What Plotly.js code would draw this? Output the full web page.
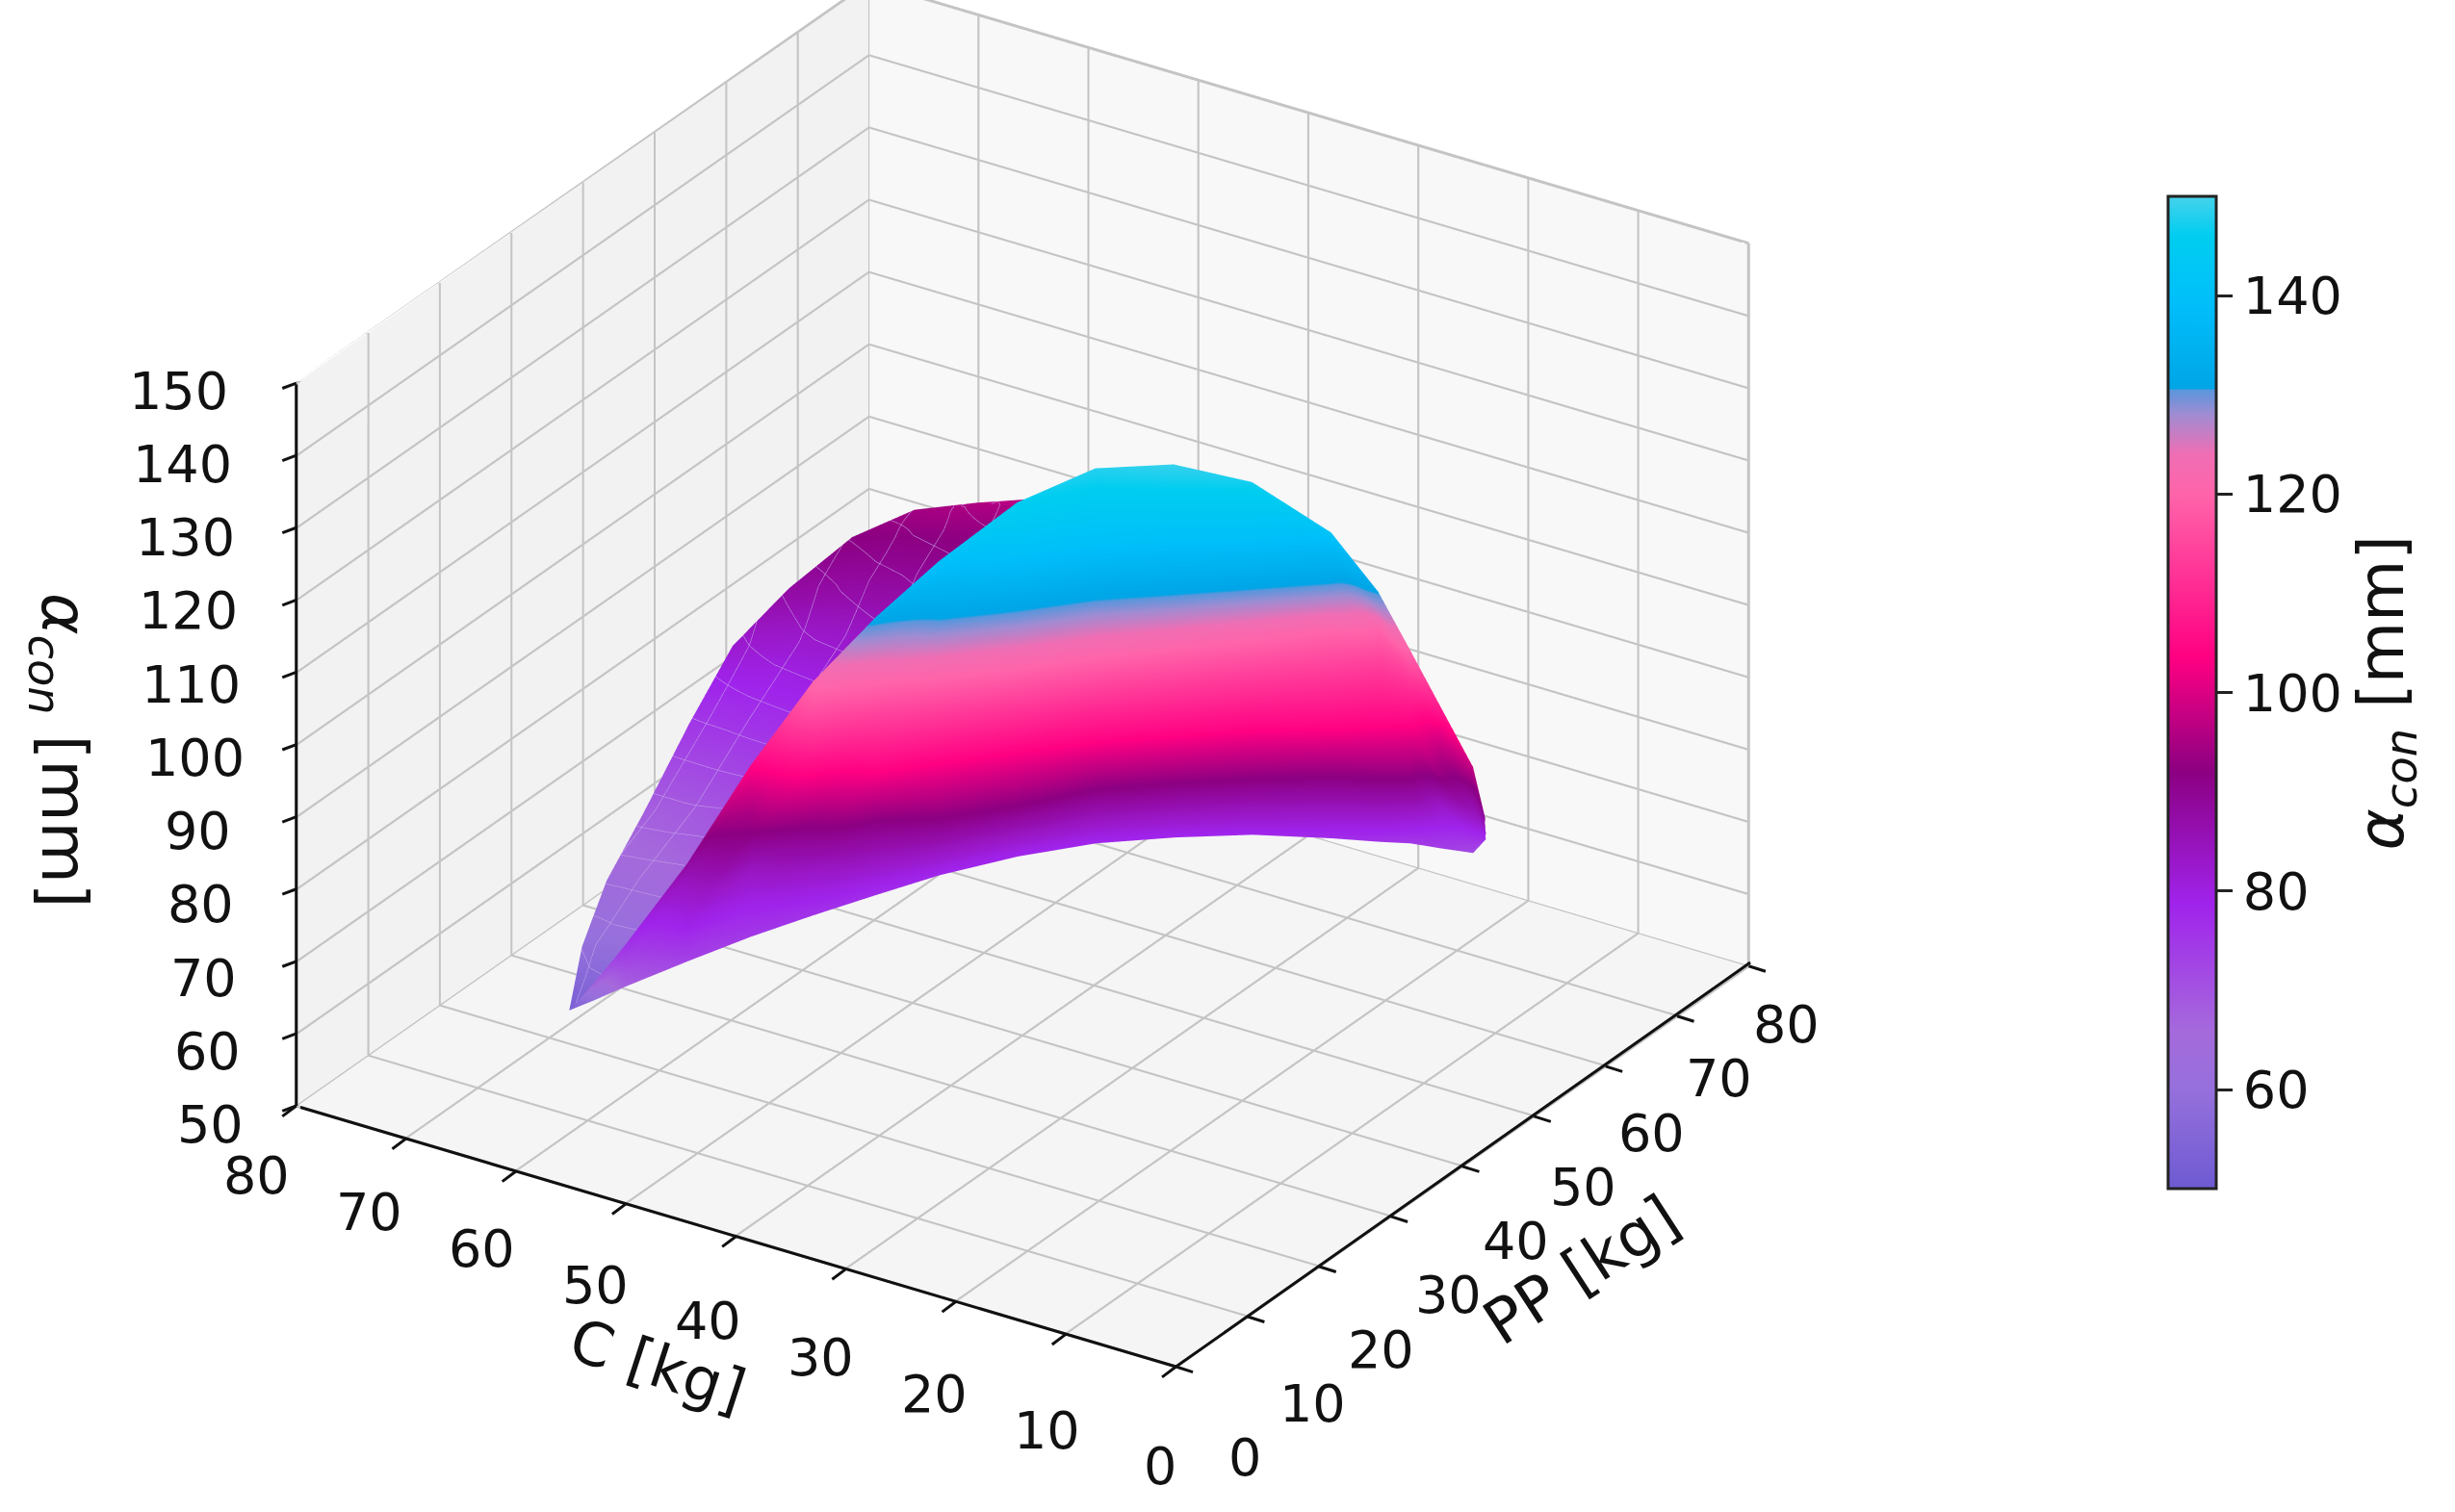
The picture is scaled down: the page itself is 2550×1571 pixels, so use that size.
<!DOCTYPE html>
<html><head><meta charset="utf-8">
<script src="https://cdn.plot.ly/plotly-3.0.1.min.js"></script>
<style>html,body{margin:0;padding:0;background:#fff}#chart{width:2550px;height:1571px}</style>
</head><body><div id="chart"></div>
<script>
const axisTicks = [0,10,20,30,40,50,60,70,80];
const zTicks = [50,60,70,80,90,100,110,120,130,140,150];
const barTicks = [60,80,100,120,140];

const frontPP = [
[21.7,21.7,21.7,21.7,21.7,21.7,21.7],
[17.1,16.5,15.9,15.3,13.7,12.9,11.3],
[12.1,12.0,12.0,11.1,10.9,10.0,9.8],
[13.3,12.6,12.0,12.4,12.7,12.9,11.8],
[17.3,17.8,17.6,14.6,14.1,13.1,11.8],
[21.9,20.7,18.1,13.5,10.8,9.0,9.1],
[26.3,21.5,16.5,14.4,12.2,10.1,9.6],
[30.7,24.5,20.4,15.6,13.3,13.0,11.9],
[36.6,29.5,25.1,20.1,17.8,16.4,17.3],
[41.7,35.1,29.8,24.9,22.6,21.1,23.3],
[45.8,39.2,33.9,29.4,26.6,25.0,26.1],
[49.4,43.0,38.0,33.9,30.7,28.4,28.9],
[53.2,46.6,41.4,38.4,34.8,33.3,31.2],
[55.7,48.3,43.7,42.6,40.8,36.1,35.0],
[57.8,49.6,45.2,43.5,41.4,39.9,39.4],
[59.4,56.2,50.7,50.1,48.6,46.7,44.6],
[62.1,58.8,55.3,53.4,51.1,49.5,47.8],
[60.5,58.9,57.3,54.6,53.2,51.6,49.2]];
const frontC = [
[69.3,69.3,69.3,69.3,69.3,69.3,69.3],
[64.0,63.7,63.3,62.9,61.9,61.3,60.3],
[58.0,57.9,57.9,57.3,57.2,56.6,56.5],
[53.0,52.6,52.2,52.4,52.7,52.8,52.1],
[49.9,50.3,50.1,48.2,47.8,47.2,46.4],
[47.2,46.4,44.7,41.8,40.0,38.9,38.9],
[44.4,41.3,38.0,36.7,35.2,33.9,33.5],
[41.5,37.5,34.8,31.7,30.2,30.1,29.3],
[38.2,33.6,30.8,27.5,26.0,25.1,25.7],
[34.4,30.1,26.7,23.5,22.0,21.0,22.5],
[29.9,25.6,22.2,19.3,17.5,16.4,17.2],
[25.2,21.0,17.7,15.1,13.0,11.5,11.9],
[20.5,16.2,12.8,10.9,8.5,7.5,6.2],
[17.8,13.0,10.1,9.3,8.1,5.1,4.4],
[16.3,11.0,8.2,7.0,5.7,4.7,4.4],
[14.5,12.4,8.8,8.5,7.5,6.3,4.9],
[13.4,11.3,9.0,7.8,6.2,5.2,4.1],
[11.2,10.2,9.1,7.4,6.5,5.5,3.9]];
const frontZ = [
[53,53,53,53,53,53,53],
[60,61,62,63,65,66,68],
[68,69,70,72,73,75,76],
[73,76,79,81,83,85,88],
[75,79,84,92,96,100,104],
[76,83,92,104,112,118,121],
[77,92,104,112,120,130,132],
[78,92,104,120,130,135,140],
[78,92,104,120,130,140,146],
[78,92,104,120,130,140,148],
[78,92,104,120,130,140,149],
[78,92,104,120,130,140,147],
[77,92,104,120,130,136,141],
[76,92,104,112,120,128,131],
[75,92,104,110,115,118,120],
[74,83,92,96,100,104,108],
[72,78,84,88,92,95,98],
[76,78,80,83,85,87,90]];

const backPP = [
[21.7,21.7,21.7],
[24.1,25.3,27.1],
[30.3,31.1,33.1],
[37.6,38.6,40.7],
[44.6,45.8,49.1],
[50.2,53.0,57.1],
[54.5,57.5,62.3],
[60.3,62.8,67.4],
[64.7,65.6,70.6],
[66.3,67.6,70.6],
[66.5,68.1,71.2]];
const backC = [
[69.3,69.3,69.3],
[69.7,68.7,64.8],
[71.5,68.8,64.5],
[72.8,69.9,63.7],
[73.3,70.1,64.2],
[73.0,69.6,62.9],
[70.7,67.4,60.6],
[68.7,65.2,58.2],
[65.9,62.7,56.0],
[61.2,59.7,54.6],
[57.6,56.5,53.6]];
const backZ = [
[53,53,53],
[60,60,62],
[64,65,67],
[68,69,72],
[75,76,78],
[82,82,84],
[88,88,90],
[92,92,94],
[94,95,96],
[96,96,97],
[97,97,97]];

const colorStops = [
[0,'#6E5AD2'],[0.1,'#9670DC'],[0.16,'#A569DC'],[0.287,'#A023EB'],[0.42,'#8C0082'],
[0.535,'#FF0082'],[0.70,'#FF64AA'],[0.74,'#F06EB4'],[0.78,'#A08CD2'],[0.805,'#5A96DC'],
[0.806,'#00A5E6'],[0.89,'#00BEFA'],[0.96,'#00CDF0'],[1,'#46D2EB']];

const FONT = 'DejaVu Sans';
const TICK_SIZE = 54;
const INK = '#111';
const flat = {ambient:1,diffuse:0,specular:0,roughness:1,fresnel:0};
const PMIN = axisTicks[0], PMAX = axisTicks[axisTicks.length-1];
const ZMIN = zTicks[0], ZMAX = zTicks[zTicks.length-1];
const PX = 1.626; // reference-thumbnail px to page px

function axis(range, bg){
  return {range:range, showticklabels:false, title:{text:''}, showgrid:false, zeroline:false,
    showline:false, ticks:'', showbackground:true, backgroundcolor:bg, showspikes:false};
}
function lines(segs, color, width){
  const x=[],y=[],z=[];
  segs.forEach(s=>{x.push(s[0],s[3],null);y.push(s[1],s[4],null);z.push(s[2],s[5],null);});
  return {type:'scatter3d',mode:'lines',x,y,z,line:{color,width},hoverinfo:'skip',showlegend:false};
}
const gridSegs=[];
axisTicks.forEach(t=>{
  gridSegs.push([t,PMIN,ZMIN,t,PMAX,ZMIN],[PMIN,t,ZMIN,PMAX,t,ZMIN]);
  gridSegs.push([t,PMAX,ZMIN,t,PMAX,ZMAX],[PMAX,t,ZMIN,PMAX,t,ZMAX]);
});
zTicks.forEach(t=>{
  gridSegs.push([PMIN,PMAX,t,PMAX,PMAX,t],[PMAX,PMIN,t,PMAX,PMAX,t]);
});

const ann=[];
function tick(x,y,z,label,ax,ay,lx,ly){
  ann.push({x,y,z,text:'',showarrow:true,arrowhead:0,arrowwidth:3,arrowcolor:INK,ax,ay});
  ann.push({x,y,z,text:String(label),showarrow:false,xshift:lx,yshift:ly,xanchor:'center',yanchor:'middle',
    font:{family:FONT,size:TICK_SIZE,color:INK}});
}
axisTicks.forEach(t=>tick(PMIN,t,ZMIN,t,-16,12,
   -33-(-10+0.19*t)*PX, -86+(-11+0.24*t)*PX));
axisTicks.forEach(t=>tick(t,PMIN,ZMIN,t,19,6,
   54-(-11+0.25*t)*PX, -80+(-9+0.26*t)*PX));
zTicks.forEach(t=>tick(PMIN,PMAX,t,t,-16,6,
   (-75+0.2*(150-t))*PX, -(12-0.07*(t-50))*PX));
// full-length black axis edges
ann.push({x:PMIN,y:PMIN,z:ZMIN,text:'',showarrow:true,arrowhead:0,arrowwidth:3,arrowcolor:INK,ax:-911,ay:-270});
ann.push({x:PMIN,y:PMIN,z:ZMIN,text:'',showarrow:true,arrowhead:0,arrowwidth:3,arrowcolor:INK,ax:598,ay:-421});
ann.push({x:PMIN,y:PMAX,z:ZMIN,text:'',showarrow:true,arrowhead:0,arrowwidth:3,arrowcolor:INK,ax:0,ay:-751});

const traces = [
 lines(gridSegs,'#c4c4c4',6),
 {type:'surface',x:backPP,y:backC,z:backZ,cmin:50,cmax:150,colorscale:colorStops,showscale:false,lighting:flat,hoverinfo:'skip',
  contours:{x:{show:true,start:0,end:80,size:3,color:'#c9a6ea',width:1},y:{show:true,start:0,end:80,size:3,color:'#c9a6ea',width:1}}},
 {type:'surface',x:frontPP,y:frontC,z:frontZ,cmin:50,cmax:150,colorscale:colorStops,lighting:flat,hoverinfo:'skip',
  colorbar:{x:0.883,xanchor:'left',xpad:0,y:0.870,yanchor:'top',ypad:0,len:0.656,lenmode:'fraction',thickness:50,thicknessmode:'pixels',
    outlinewidth:3,outlinecolor:'#222',ticks:'outside',ticklen:16,tickwidth:3,tickcolor:'#222',
    tickmode:'array',tickvals:barTicks,ticktext:barTicks.map(String),tickfont:{family:FONT,size:TICK_SIZE,color:INK},
    title:{text:'<i>α<sub>con</sub></i> [mm]',side:'right',font:{family:FONT,size:66,color:INK}}}}
];
function title(x,y,text,angle,size){
  return {xref:'paper',yref:'paper',x:x/2550,y:1-y/1571,text,textangle:angle,showarrow:false,xanchor:'center',yanchor:'middle',
    font:{family:FONT,size,color:INK}};
}
const layout = {
 width:2550,height:1571,margin:{l:0,r:0,t:0,b:0},paper_bgcolor:'#fff',showlegend:false,
 font:{family:FONT},
 scene:{domain:{x:[0,0.833],y:[0,1]},aspectmode:'manual',aspectratio:{x:1.388,y:1.388,z:1.074},
   camera:{projection:{type:'orthographic'},eye:{x:-1.49,y:-0.97,z:0.789},center:{x:0,y:0,z:-0.121},up:{x:0,y:0,z:1}},
   xaxis:axis([PMIN,PMAX],'#f8f8f8'),
   yaxis:axis([PMIN,PMAX],'#f2f2f2'),
   zaxis:axis([ZMIN,ZMAX],'#f5f5f5'),
   annotations:ann},
 annotations:[
  title(683,1418,'C [kg]',18,62),
  title(1642,1320,'PP [kg]',-33,64),
  title(62,780,'<i>α<sub>con</sub></i> [mm]',90,66)
 ]
};
Plotly.newPlot('chart',traces,layout,{displayModeBar:false});
</script></body></html>
